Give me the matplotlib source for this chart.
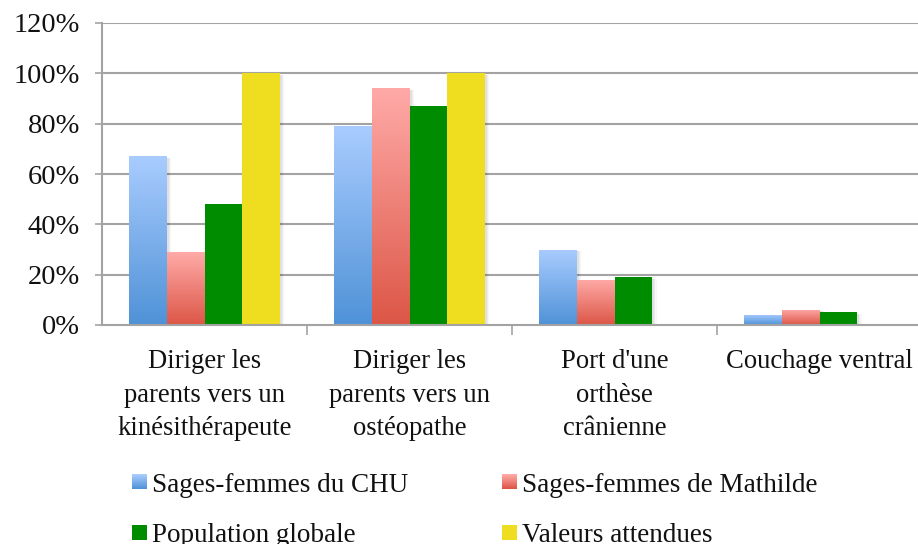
import numpy as np
import matplotlib
matplotlib.use("Agg")
import matplotlib.pyplot as plt
from matplotlib.patches import Rectangle
from matplotlib.colors import LinearSegmentedColormap, to_rgb

categories = ["Diriger les\nparents vers un\nkinésithérapeute",
              "Diriger les\nparents vers un\nostéopathe",
              "Port d'une\northèse\ncrânienne",
              "Couchage ventral"]
series_names = ["Sages-femmes du CHU", "Sages-femmes de Mathilde",
                "Population globale", "Valeurs attendues"]
chu = [67, 79, 30, 4]
mathilde = [29, 94, 18, 6]
globale = [48, 87, 19, 5]
attendues = [100, 100, 0, 0]
values = [chu, mathilde, globale, attendues]
yticks = [0, 20, 40, 60, 80, 100, 120]
ytick_labels = ["0%", "20%", "40%", "60%", "80%", "100%", "120%"]

# colours: (top, bottom) for gradients, solid otherwise
grad = {0: ("#a9ccff", "#4f92d7"), 1: ("#ffaaa8", "#dc5646")}
solid = {2: "#008c00", 3: "#efdd1f"}

FONT = "Liberation Serif"
plt.rcParams["font.family"] = [FONT, "DejaVu Serif"]
TXT = "#111111"

fig = plt.figure(figsize=(9.18, 5.44), dpi=100)
W, H = 918, 544
ax = fig.add_axes([102 / W, 1 - 325 / H, 820 / W, 302 / H])

n_cat = len(categories)
n_ser = len(values)
bw = 0.183
x = np.arange(n_cat)
grid_c = "#a3a3a3"

for y in yticks[1:]:
    ax.axhline(y, color=grid_c, lw=1.5, zorder=1)


def grad_cmap(top, bot):
    return LinearSegmentedColormap.from_list("g", [bot, top])


for s in range(n_ser):
    for i in range(n_cat):
        v = values[s][i]
        if not v:
            continue
        x0 = x[i] + (s - n_ser / 2) * bw
        # soft shadow
        for k, a in enumerate([0.05, 0.04, 0.03]):
            d = 0.006 * (k + 1)
            ax.add_patch(Rectangle((x0 + 0.004, -0.6 - 0.3 * k), bw + d, v + 0.3 * k,
                                   facecolor="black", alpha=a, lw=0, zorder=2))
        if s in grad:
            g = np.linspace(0, 1, 256).reshape(-1, 1)
            im = ax.imshow(g, extent=[x0, x0 + bw, 0, v], origin="lower",
                           cmap=grad_cmap(*grad[s]), aspect="auto", zorder=3,
                           interpolation="bilinear")
            rect = Rectangle((x0, 0), bw, v, facecolor="none", lw=0, zorder=3)
            ax.add_patch(rect)
            im.set_clip_path(rect)
        else:
            ax.add_patch(Rectangle((x0, 0), bw, v, facecolor=solid[s], lw=0, zorder=3))

ax.set_xlim(-0.5, n_cat - 0.5)
ax.set_ylim(0, 120)

for sp in ["top", "right"]:
    ax.spines[sp].set_visible(False)
for sp in ["left", "bottom"]:
    ax.spines[sp].set_color(grid_c)
    ax.spines[sp].set_linewidth(1.5)
ax.spines["bottom"].set_zorder(4)

ax.set_yticks(yticks)
ax.set_yticklabels(ytick_labels)
ax.tick_params(axis="y", direction="out", length=5, width=1.2, color=grid_c,
               pad=11, labelsize=20.5, labelcolor=TXT)
ax.set_xticks(x)
ax.set_xticklabels(categories, linespacing=1.47)
ax.tick_params(axis="x", which="major", length=0, pad=17, labelsize=19.2, labelcolor=TXT)
ax.set_xticks(np.arange(n_cat - 1) + 0.5, minor=True)
ax.tick_params(axis="x", which="minor", direction="out", length=7, width=1.2, color=grid_c)

# legend (2 columns, filled row by row)
leg_cols_x = [132, 502]
leg_rows_y = [489, 539.5]   # marker bottom (pixels from top)
ms = 15
for s, name in enumerate(series_names):
    cx = leg_cols_x[s % 2]
    cb = leg_rows_y[s // 2]
    if s in grad:
        top, bot = np.array(to_rgb(grad[s][0])), np.array(to_rgb(grad[s][1]))
        n = 15
        for k in range(n):
            t = k / (n - 1)
            c = bot * (1 - t) + top * t
            fig.patches.append(Rectangle((cx / W, 1 - (cb - ms * k / n) / H),
                                         ms / W, (ms / n + 0.4) / H, facecolor=c, lw=0,
                                         transform=fig.transFigure, figure=fig))
    else:
        fig.patches.append(Rectangle((cx / W, 1 - cb / H), ms / W, ms / H,
                                     facecolor=solid[s], lw=0,
                                     transform=fig.transFigure, figure=fig))
    fig.text((cx + ms + 5) / W, 1 - (cb + 3) / H, name, fontsize=19.5, color=TXT,
             ha="left", va="baseline")

fig.savefig("out.png", dpi=100)
